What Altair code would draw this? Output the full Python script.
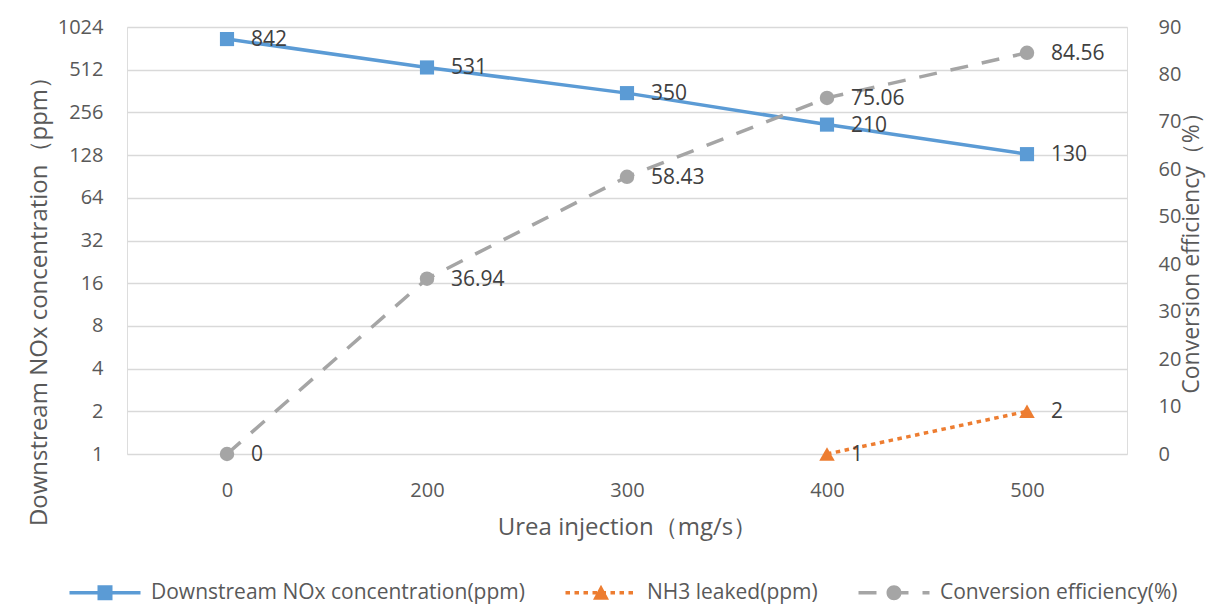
import altair as alt
import pandas as pd

# ---------------- data ----------------
categories = ["0", "200", "300", "400", "500"]
nox_ppm = [842, 531, 350, 210, 130]
nh3_ppm = [None, None, None, 1, 2]
conversion_pct = [0, 36.94, 58.43, 75.06, 84.56]

series_names = ["Downstream NOx concentration(ppm)", "NH3 leaked(ppm)", "Conversion efficiency(%)"]
series_colors = ["#5B9BD5", "#ED7D31", "#A5A5A5"]

log_ticks = [1, 2, 4, 8, 16, 32, 64, 128, 256, 512, 1024]
pct_ticks = [0, 10, 20, 30, 40, 50, 60, 70, 80, 90]

left_title = "Downstream NOx concentration（ppm）"
right_title = "Conversion efficiency（%）"
x_title = "Urea injection（mg/s）"


def fmt(v):
    return None if v is None else f"{v:g}"


df = pd.DataFrame({
    "x": categories,
    "nox": nox_ppm,
    "nh3": [float("nan") if v is None else v for v in nh3_ppm],
    "conv": conversion_pct,
    "nox_label": [fmt(v) for v in nox_ppm],
    "nh3_label": [fmt(v) for v in nh3_ppm],
    "conv_label": [fmt(v) for v in conversion_pct],
})
legend_df = pd.DataFrame({"series": series_names})

# ---------------- styles ----------------
FONT = "Open Sans"
TXT = "#595959"
LBL = "#404040"
LW = 3.5
TICK_FS = 20
TITLE_FS = 24
LABEL_FS = 21


# legend symbols: line segment + marker, drawn as custom paths (pixel units, symbolSize=4)
def rect(x0, x1, h):
    return f"M{x0},{-h} L{x1},{-h} L{x1},{h} L{x0},{h} Z "


nox_sym = rect(0, 71, LW / 2) + rect(28, 43, 7.5)
nh3_sym = "".join(rect(x, x + 4.5, LW / 2) for x in range(0, 71, 9)) + "M35.5,-8 L43.5,7 L27.5,7 Z"
conv_sym = "".join(rect(a, b, LW / 2) for a, b in [(0, 18), (32, 50), (64, 71)]) \
    + "M28,0 A7.5,7.5 0 1,1 43,0 A7.5,7.5 0 1,1 28,0 Z"
legend_paths = [nox_sym, nh3_sym, conv_sym]

x_enc = alt.X(
    "x:N", sort=categories, title=x_title,
    axis=alt.Axis(labelAngle=0, ticks=False, domain=False, grid=False,
                  labelPadding=26, titlePadding=15,
                  labelFont=FONT, labelFontSize=TICK_FS, labelColor=TXT,
                  titleFont=FONT, titleFontSize=TITLE_FS, titleColor=TXT, titleFontWeight="normal"),
)

log_scale = alt.Scale(type="log", base=2, domain=[1, 1024], nice=False)
left_axis = alt.Axis(values=log_ticks, format="d", ticks=False, domain=False, grid=True,
                     gridColor="#D9D9D9", gridWidth=1.5, labelPadding=24,
                     labelFont=FONT, labelFontSize=TICK_FS, labelColor=TXT,
                     titleFont=FONT, titleFontSize=TITLE_FS, titleColor=TXT, titleFontWeight="normal",
                     titleAngle=270, titleAlign="center", titlePadding=6, titleY=268)

pct_scale = alt.Scale(domain=[0, 90], nice=False)
right_axis = alt.Axis(orient="right", values=pct_ticks, ticks=False, domain=False, grid=False,
                      labelPadding=31, labelFont=FONT, labelFontSize=TICK_FS, labelColor=TXT,
                      titleFont=FONT, titleFontSize=23, titleColor=TXT, titleFontWeight="normal",
                      titleAngle=270, titleAlign="center", titlePadding=23, titleY=220)

base = alt.Chart(df)

y_nox = alt.Y("nox:Q", scale=log_scale, axis=left_axis, title=left_title)
y_nh3 = alt.Y("nh3:Q", scale=log_scale, axis=left_axis, title=left_title)
y_conv = alt.Y("conv:Q", scale=pct_scale, axis=right_axis, title=right_title)

text_kw = dict(align="left", baseline="middle", dx=24, dy=1, font=FONT, fontSize=LABEL_FS, color=LBL)

nox_line = base.mark_line(color=series_colors[0], strokeWidth=LW).encode(x=x_enc, y=y_nox)
nox_pts = base.mark_point(shape="square", filled=True, size=200, opacity=1,
                          color=series_colors[0]).encode(x=x_enc, y=y_nox)
nox_txt = base.mark_text(**text_kw).encode(x=x_enc, y=y_nox, text="nox_label:N")

nh3_base = base.transform_filter("isValid(datum.nh3)")
nh3_line = nh3_base.mark_line(color=series_colors[1], strokeWidth=LW,
                              strokeDash=[4.5, 4.5]).encode(x=x_enc, y=y_nh3)
nh3_pts = nh3_base.mark_point(shape="triangle-up", filled=True, size=240, opacity=1,
                              color=series_colors[1]).encode(x=x_enc, y=y_nh3)
nh3_txt = nh3_base.mark_text(**text_kw).encode(x=x_enc, y=y_nh3, text="nh3_label:N")

legend_kw = dict(title=None, orient="none", direction="horizontal", columns=3,
                 legendX=-68, legendY=555, symbolSize=4, symbolStrokeWidth=0, symbolOpacity=1,
                 labelOffset=71, columnPadding=30,
                 labelFont=FONT, labelFontSize=LABEL_FS, labelColor=TXT, labelLimit=600)

legend_layer = alt.Chart(legend_df).transform_filter("false").mark_point(filled=True, opacity=1).encode(
    color=alt.Color("series:N", scale=alt.Scale(domain=series_names, range=series_colors),
                    legend=alt.Legend(**legend_kw)),
    shape=alt.Shape("series:N", scale=alt.Scale(domain=series_names, range=legend_paths),
                    legend=alt.Legend(**legend_kw)),
)

left = alt.layer(nox_line, nox_pts, nox_txt, nh3_line, nh3_pts, nh3_txt, legend_layer)

conv_line = base.mark_line(color=series_colors[2], strokeWidth=LW,
                           strokeDash=[18, 14]).encode(x=x_enc, y=y_conv)
conv_pts = base.mark_point(shape="circle", filled=True, size=210, opacity=1,
                           color=series_colors[2]).encode(x=x_enc, y=y_conv)
conv_txt = base.mark_text(**text_kw).encode(x=x_enc, y=y_conv, text="conv_label:N")

right = alt.layer(conv_line, conv_pts, conv_txt)

chart = alt.layer(left, right).resolve_scale(y="independent").properties(
    width=1000, height=427,
    autosize=alt.AutoSizeParams(type="none"),
    padding={"left": 119, "top": 19, "right": 83, "bottom": 151},
).configure_view(stroke=None).configure(background="white")

chart.save("out.html", embed_options={"renderer": "svg", "actions": False})
